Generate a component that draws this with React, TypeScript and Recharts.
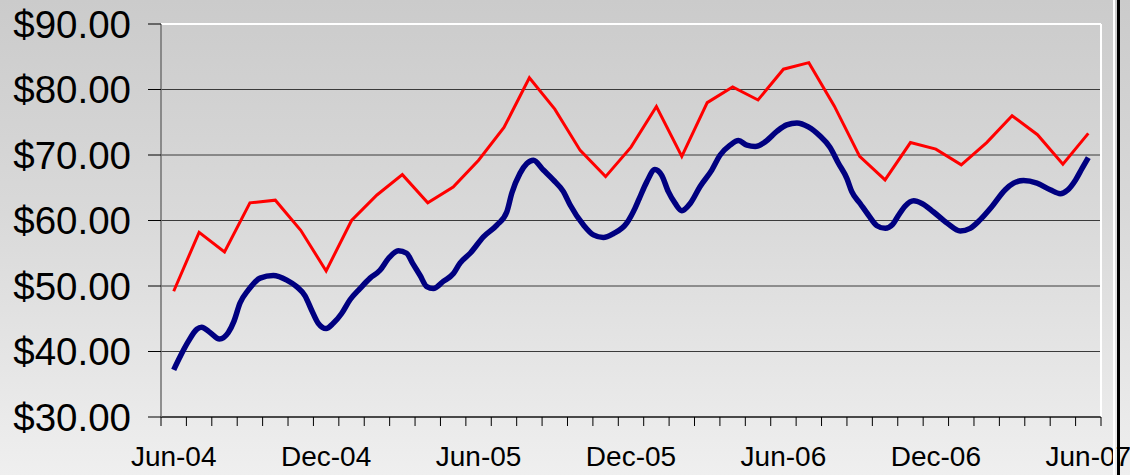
import React from 'react';
import { LineChart, Line, XAxis, YAxis, CartesianGrid, ReferenceLine } from 'recharts';

const months = [
  'Jun-04', 'Jul-04', 'Aug-04', 'Sep-04', 'Oct-04', 'Nov-04', 'Dec-04',
  'Jan-05', 'Feb-05', 'Mar-05', 'Apr-05', 'May-05', 'Jun-05',
  'Jul-05', 'Aug-05', 'Sep-05', 'Oct-05', 'Nov-05', 'Dec-05',
  'Jan-06', 'Feb-06', 'Mar-06', 'Apr-06', 'May-06', 'Jun-06',
  'Jul-06', 'Aug-06', 'Sep-06', 'Oct-06', 'Nov-06', 'Dec-06',
  'Jan-07', 'Feb-07', 'Mar-07', 'Apr-07', 'May-07', 'Jun-07',
];

// monthly series (red)
const redValues = [
  49.2, 58.2, 55.2, 62.7, 63.1, 58.5, 52.3, 60.0, 63.9, 67.0, 62.7, 65.1, 69.2,
  74.2, 81.8, 77.0, 70.7, 66.7, 71.2, 77.4, 69.8, 78.0, 80.4, 78.4, 83.1,
  84.1, 77.5, 69.8, 66.2, 71.9, 70.9, 68.5, 71.9, 76.0, 73.1, 68.6, 73.3,
];

// sub-monthly series (blue): position in months since Jun-04, and value
const blueMonth = [
  0.0, 0.25, 0.57, 0.91, 1.1, 1.43, 1.8, 2.15, 2.37, 2.61, 2.94, 3.4, 3.92,
  4.45, 4.84, 5.17, 5.43, 5.69, 6.0, 6.28, 6.61, 6.94, 7.33, 7.73, 8.12, 8.45,
  8.84, 9.17, 9.4, 9.7, 9.96, 10.22, 10.61, 11.01, 11.27, 11.67, 12.19, 12.72,
  13.11, 13.31, 13.63, 13.9, 14.16, 14.55, 14.94, 15.34, 15.6, 16.13, 16.52,
  16.91, 17.31, 17.83, 18.16, 18.32, 18.62, 18.94, 19.21, 19.47, 19.74, 20.0,
  20.33, 20.72, 21.18, 21.51, 21.9, 22.23, 22.56, 22.89, 23.28, 23.74, 24.13,
  24.53, 24.98, 25.44, 25.83, 26.17, 26.5, 26.69, 27.02, 27.35, 27.68, 28.01,
  28.3, 28.53, 28.79, 29.13, 29.45, 29.91, 30.44, 30.96, 31.35, 31.74, 32.2,
  32.73, 33.06, 33.45, 33.98, 34.5, 34.9, 35.17, 35.5, 35.76, 36.0,
];
const blueValue = [
  37.2, 39.2, 41.5, 43.4, 43.7, 42.9, 41.9, 42.9, 44.6, 47.4, 49.4, 51.2, 51.6,
  50.9, 49.9, 48.5, 46.3, 44.3, 43.5, 44.3, 45.8, 47.9, 49.6, 51.2, 52.4, 54.2,
  55.4, 55.0, 53.5, 51.6, 49.9, 49.6, 50.7, 51.9, 53.5, 55.0, 57.5, 59.3,
  61.3, 64.2, 67.2, 68.7, 69.2, 67.7, 66.2, 64.4, 62.4, 59.3, 57.8,
  57.4, 58.0, 59.6, 61.9, 63.3, 65.9, 67.8, 66.9, 64.4, 62.6, 61.5,
  62.6, 65.2, 67.7, 70.0, 71.5, 72.2, 71.5, 71.3, 72.0, 73.6, 74.6,
  74.9, 74.3, 72.9, 71.2, 68.7, 66.4, 64.4, 62.6, 60.8, 59.2, 58.8,
  59.4, 60.8, 62.2, 63.0, 62.6, 61.3, 59.6, 58.4, 58.8, 60.1, 62.1,
  64.7, 65.7, 66.1, 65.7, 64.7, 64.1, 64.6, 66.2, 68.0, 69.6,
];

const yTicks = [30, 40, 50, 60, 70, 80, 90];
const labelTicks = [0, 6, 12, 18, 24, 30, 36];

const redData = redValues.map((v, i) => ({ x: i, red: v }));
const blueData = blueMonth.map((m, i) => ({ x: m, blue: blueValue[i] }));
const tickMarks = months.map((_, i) => i - 0.5).concat([months.length - 0.5]);
const xDomain = [-0.5, months.length - 0.5];

const FONT = '"Liberation Sans", Arial, sans-serif';

export default function App() {
  return (
    <div
      style={{
        position: 'absolute',
        left: 0,
        top: 0,
        width: 1130,
        height: 475,
        overflow: 'hidden',
        background: 'linear-gradient(to bottom, #cbcbcb 0%, #d9d9d9 45%, #efefef 100%)',
        fontFamily: FONT,
      }}
    >
      <LineChart
        width={1130}
        height={475}
        margin={{ top: 24, right: 29, left: 0, bottom: 0 }}
      >
        <CartesianGrid xAxisId="a" vertical={false} stroke="#3a3a3a" strokeWidth={1} />
        <XAxis
          xAxisId="a"
          type="number"
          dataKey="x"
          domain={xDomain}
          ticks={tickMarks}
          allowDataOverflow
          interval={0}
          tickFormatter={() => ''}
          tick={{ fontSize: 1, fill: 'none' }}
          tickSize={9}
          tickMargin={0}
          height={9}
          axisLine={{ stroke: '#000', strokeWidth: 1.2 }}
          tickLine={{ stroke: '#000', strokeWidth: 1 }}
        />
        <XAxis
          xAxisId="b"
          type="number"
          dataKey="x"
          domain={xDomain}
          ticks={labelTicks}
          allowDataOverflow
          interval={0}
          tickFormatter={(v: number) => months[v]}
          tickSize={0}
          tickMargin={20}
          height={49}
          axisLine={false}
          tickLine={false}
          tick={{ fontSize: 28, fill: '#000', fontFamily: FONT }}
        />
        <YAxis
          type="number"
          domain={[30, 90]}
          ticks={yTicks}
          interval={0}
          width={161}
          tickFormatter={(v: number) => `$${v.toFixed(2)}`}
          tickSize={13}
          tickMargin={17}
          axisLine={{ stroke: '#707070', strokeWidth: 1.5 }}
          tickLine={{ stroke: '#000', strokeWidth: 1 }}
          tick={{ fontSize: 38.5, fill: '#000', fontFamily: FONT }}
        />
        <ReferenceLine xAxisId="a" y={90} stroke="#ffffff" strokeWidth={2} />
        <ReferenceLine xAxisId="a" x={xDomain[1]} stroke="#ffffff" strokeWidth={2} />
        <Line
          xAxisId="a"
          data={redData}
          dataKey="red"
          type="linear"
          stroke="#ff0000"
          strokeWidth={3}
          dot={false}
          isAnimationActive={false}
        />
        <Line
          xAxisId="a"
          data={blueData}
          dataKey="blue"
          type="monotone"
          stroke="#000080"
          strokeWidth={5.5}
          dot={false}
          isAnimationActive={false}
        />
      </LineChart>
      <div style={{ position: 'absolute', left: 1113, top: 0, width: 2, height: 475, background: '#ffffff' }} />
      <div style={{ position: 'absolute', left: 1117, top: 0, width: 3, height: 475, background: '#000000' }} />
    </div>
  );
}
